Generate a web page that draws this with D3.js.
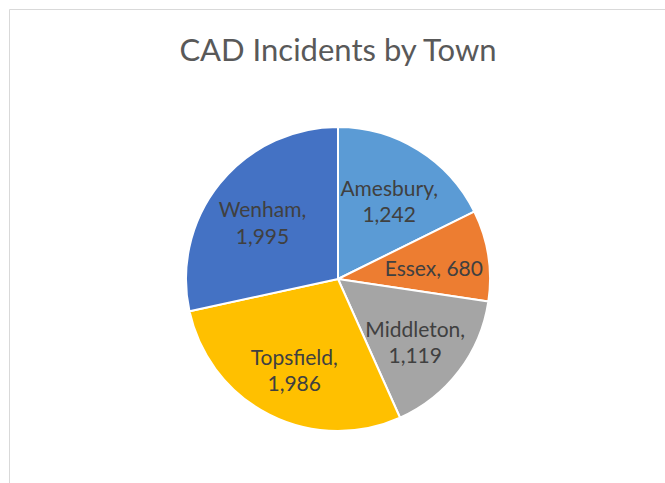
<!DOCTYPE html>
<html lang="en">
  <head>
    <meta charset="utf-8">
    <title>CAD Incidents by Town</title>
    <script src="https://cdn.jsdelivr.net/npm/d3@7"></script>
    <style>
      body { margin: 0; background: #fff; }
    </style>
  </head>
  <body>
    <div id='chart'></div>

    <script type='text/javascript'>
      // data
      let towns = ['Amesbury', 'Essex', 'Middleton', 'Topsfield', 'Wenham'];
      let incidents = [1242, 680, 1119, 1986, 1995];
      let colors = ['#5b9bd5', '#ed7d31', '#a5a5a5', '#ffc000', '#4472c4'];

      let width = 665;
      let height = 483;
      let cx = 338, cy = 279, radius = 152;

      let svg = d3.select('#chart').append('svg')
        .attr('width', width)
        .attr('height', height)

      // chart frame (runs off the right and bottom of the window)
      svg.append('path')
        .attr('d', 'M9.5,' + height + ' V9.5 H' + width)
        .attr('fill', 'none')
        .attr('stroke', '#d9d9d9')
        .attr('stroke-width', 1)

      svg.append('text')
        .attr('x', cx)
        .attr('y', 61)
        .attr('text-anchor', 'middle')
        .attr('font-family', 'Lato, sans-serif')
        .attr('font-size', '31px')
        .attr('fill', '#595959')
        .text('CAD Incidents by Town')

      let data = towns.map((t, i) => ({ town: t, value: incidents[i], color: colors[i] }));

      let pie = d3.pie()
        .sort(null)
        .value((d) => d.value)

      let arc = d3.arc()
        .innerRadius(0)
        .outerRadius(radius)

      let labelArc = d3.arc()
        .innerRadius(97)
        .outerRadius(97)

      let fmt = d3.format(',');

      let g = svg.append('g')
        .attr('transform', 'translate(' + cx + ',' + cy + ')')

      let arcs = pie(data);

      g.selectAll('path.slice')
        .data(arcs)
        .enter()
        .append('path')
        .attr('class', 'slice')
        .attr('d', arc)
        .attr('fill', (d) => d.data.color)
        .attr('stroke', '#fff')
        .attr('stroke-width', 2)
        .attr('stroke-linejoin', 'round')

      let labels = g.selectAll('text.label')
        .data(arcs)
        .enter()
        .append('text')
        .attr('class', 'label')
        .attr('transform', (d) => {
          let c = labelArc.centroid(d);
          return 'translate(' + c[0] + ',' + (c[1] + 5) + ')';
        })
        .attr('text-anchor', 'middle')
        .attr('font-family', 'Lato, sans-serif')
        .attr('font-size', '21px')
        .attr('fill', '#404040')

      labels.each(function (d) {
        let t = d3.select(this);
        let narrow = (d.endAngle - d.startAngle) < 0.7;
        if (narrow) {
          t.append('tspan')
            .attr('x', 0)
            .attr('dy', '0.35em')
            .text(d.data.town + ', ' + fmt(d.data.value))
        } else {
          t.append('tspan')
            .attr('x', 0)
            .attr('dy', '-0.27em')
            .text(d.data.town + ',')
          t.append('tspan')
            .attr('x', 0)
            .attr('dy', '1.24em')
            .text(fmt(d.data.value))
        }
      });
    </script>
  </body>
</html>
